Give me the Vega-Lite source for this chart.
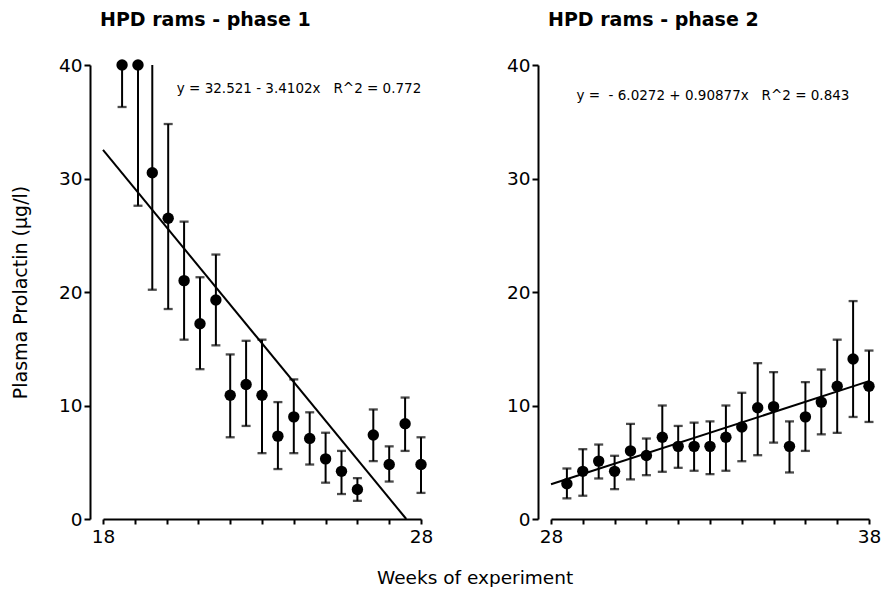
{
  "$schema": "https://vega.github.io/schema/vega-lite/v6.json",
  "padding": {"left": 11, "top": 11, "right": 0, "bottom": 0},
  "config": {
    "view": {"stroke": null},
    "font": "DejaVu Sans",
    "axis": {
      "grid": false,
      "domainColor": "black",
      "domainWidth": 2,
      "tickColor": "black",
      "tickWidth": 2,
      "labelColor": "black",
      "labelFont": "DejaVu Sans",
      "labelFontSize": 18.5,
      "titleColor": "black",
      "titleFont": "DejaVu Sans",
      "titleFontSize": 19,
      "titleFontWeight": "normal"
    },
    "title": {"color": "black", "font": "DejaVu Sans"}
  },
  "title": {
    "text": "Weeks of experiment",
    "orient": "bottom",
    "anchor": "middle",
    "fontSize": 18.5,
    "fontWeight": "normal",
    "offset": 23,
    "dx": 29
  },
  "datasets": {
    "p1": [
      {"week": 18.6, "prl": 40.0, "lo": 36.3, "hi": 40},
      {"week": 19.1, "prl": 40.0, "lo": 27.6, "hi": 40},
      {"week": 19.55, "prl": 30.5, "lo": 20.2, "hi": 40},
      {"week": 20.05, "prl": 26.5, "lo": 18.5, "hi": 34.8},
      {"week": 20.55, "prl": 21.0, "lo": 15.8, "hi": 26.2},
      {"week": 21.05, "prl": 17.2, "lo": 13.2, "hi": 21.3},
      {"week": 21.55, "prl": 19.3, "lo": 15.3, "hi": 23.3},
      {"week": 22.0, "prl": 10.9, "lo": 7.2, "hi": 14.5},
      {"week": 22.5, "prl": 11.85, "lo": 8.2, "hi": 15.7},
      {"week": 23.0, "prl": 10.9, "lo": 5.8, "hi": 15.8},
      {"week": 23.5, "prl": 7.3, "lo": 4.4, "hi": 10.3},
      {"week": 24.0, "prl": 9.0, "lo": 5.8, "hi": 12.3},
      {"week": 24.5, "prl": 7.1, "lo": 4.8, "hi": 9.4},
      {"week": 25.0, "prl": 5.3, "lo": 3.2, "hi": 7.6},
      {"week": 25.5, "prl": 4.2, "lo": 2.2, "hi": 6.0},
      {"week": 26.0, "prl": 2.6, "lo": 1.6, "hi": 3.6},
      {"week": 26.5, "prl": 7.4, "lo": 5.1, "hi": 9.65},
      {"week": 27.0, "prl": 4.8, "lo": 3.3, "hi": 6.4},
      {"week": 27.5, "prl": 8.4, "lo": 6.0, "hi": 10.7},
      {"week": 28.0, "prl": 4.8, "lo": 2.3, "hi": 7.2}
    ],
    "p2": [
      {"week": 28.5, "prl": 3.1, "lo": 1.82, "hi": 4.45},
      {"week": 29.0, "prl": 4.2, "lo": 2.05, "hi": 6.15},
      {"week": 29.5, "prl": 5.1, "lo": 3.57, "hi": 6.56},
      {"week": 30.0, "prl": 4.2, "lo": 2.63, "hi": 5.57},
      {"week": 30.5, "prl": 6.0, "lo": 3.49, "hi": 8.38},
      {"week": 31.0, "prl": 5.6, "lo": 3.86, "hi": 7.09},
      {"week": 31.5, "prl": 7.2, "lo": 4.16, "hi": 10.0},
      {"week": 32.0, "prl": 6.4, "lo": 4.51, "hi": 8.2},
      {"week": 32.5, "prl": 6.4, "lo": 4.25, "hi": 8.49},
      {"week": 33.0, "prl": 6.4, "lo": 3.95, "hi": 8.6},
      {"week": 33.5, "prl": 7.2, "lo": 4.25, "hi": 10.0},
      {"week": 34.0, "prl": 8.1, "lo": 5.09, "hi": 11.12},
      {"week": 34.5, "prl": 9.8, "lo": 5.62, "hi": 13.73},
      {"week": 35.0, "prl": 9.9, "lo": 6.73, "hi": 12.94},
      {"week": 35.5, "prl": 6.4, "lo": 4.1, "hi": 8.6},
      {"week": 36.0, "prl": 9.0, "lo": 6.0, "hi": 12.06},
      {"week": 36.5, "prl": 10.3, "lo": 7.46, "hi": 13.17},
      {"week": 37.0, "prl": 11.7, "lo": 7.59, "hi": 15.8},
      {"week": 37.5, "prl": 14.1, "lo": 8.99, "hi": 19.2},
      {"week": 38.0, "prl": 11.7, "lo": 8.55, "hi": 14.84}
    ],
    "fit1": [
      {"week": 18, "prl": 32.521},
      {"week": 27.537, "prl": 0}
    ],
    "fit2": [
      {"week": 28, "prl": 3.0605},
      {"week": 38, "prl": 12.148}
    ],
    "eq1": [
      {"week": 20.32, "prl": 37.9, "label": "y = 32.521 - 3.4102x\u00a0\u00a0\u00a0R^2 = 0.772"}
    ],
    "eq2": [
      {"week": 28.8, "prl": 37.3, "label": "y =\u00a0\u00a0- 6.0272 + 0.90877x\u00a0\u00a0\u00a0R^2 = 0.843"}
    ]
  },
  "spacing": 130,
  "bounds": "flush",
  "hconcat": [
    {
      "width": 318,
      "height": 454,
      "title": {"text": "HPD rams - phase 1", "anchor": "start", "frame": "group", "fontSize": 19, "fontWeight": "bold", "offset": 26, "dx": -3},
      "encoding": {
        "x": {
          "field": "week", "type": "quantitative",
          "scale": {"domain": [18, 28], "nice": false, "zero": false},
          "axis": {"values": [18, 19, 20, 21, 22, 23, 24, 25, 26, 27, 28], "labelExpr": "datum.value == 18 || datum.value == 28 ? datum.label : ''", "title": null, "tickSize": 5, "labelPadding": 3, "labelOverlap": false, "labelFlush": false}
        }
      },
      "layer": [
        {
          "data": {"name": "p1"},
          "mark": {"type": "rule", "strokeWidth": 2, "color": "black"},
          "encoding": {
            "y": {"field": "lo", "type": "quantitative", "scale": {"domain": [0, 40], "nice": false},
              "axis": {"values": [0, 10, 20, 30, 40], "offset": 13, "title": "Plasma Prolactin (µg/l)", "titlePadding": 28, "tickSize": 6, "labelPadding": 2}},
            "y2": {"field": "hi"}
          }
        },
        {
          "data": {"name": "p1"},
          "mark": {"type": "tick", "orient": "horizontal", "size": 9, "thickness": 2.3, "color": "black"},
          "encoding": {"y": {"field": "lo", "type": "quantitative"}}
        },
        {
          "data": {"name": "p1"},
          "transform": [{"filter": "datum.hi < 40"}],
          "mark": {"type": "tick", "orient": "horizontal", "size": 9, "thickness": 2.3, "color": "black"},
          "encoding": {"y": {"field": "hi", "type": "quantitative"}}
        },
        {
          "data": {"name": "fit1"},
          "mark": {"type": "line", "strokeWidth": 2, "color": "black"},
          "encoding": {"y": {"field": "prl", "type": "quantitative"}}
        },
        {
          "data": {"name": "p1"},
          "mark": {"type": "circle", "size": 130, "color": "black", "opacity": 1},
          "encoding": {"y": {"field": "prl", "type": "quantitative"}}
        },
        {
          "data": {"name": "eq1"},
          "mark": {"type": "text", "align": "left", "baseline": "middle", "fontSize": 13.5, "color": "black"},
          "encoding": {"y": {"field": "prl", "type": "quantitative"}, "text": {"field": "label"}}
        }
      ]
    },
    {
      "width": 318,
      "height": 454,
      "title": {"text": "HPD rams - phase 2", "anchor": "start", "frame": "group", "fontSize": 19, "fontWeight": "bold", "offset": 26, "dx": -3},
      "encoding": {
        "x": {
          "field": "week", "type": "quantitative",
          "scale": {"domain": [28, 38], "nice": false, "zero": false},
          "axis": {"values": [28, 29, 30, 31, 32, 33, 34, 35, 36, 37, 38], "labelExpr": "datum.value == 28 || datum.value == 38 ? datum.label : ''", "title": null, "tickSize": 5, "labelPadding": 3, "labelOverlap": false, "labelFlush": false}
        }
      },
      "layer": [
        {
          "data": {"name": "p2"},
          "mark": {"type": "rule", "strokeWidth": 2, "color": "black"},
          "encoding": {
            "y": {"field": "lo", "type": "quantitative", "scale": {"domain": [0, 40], "nice": false},
              "axis": {"values": [0, 10, 20, 30, 40], "offset": 13, "title": null, "tickSize": 6, "labelPadding": 2}},
            "y2": {"field": "hi"}
          }
        },
        {
          "data": {"name": "p2"},
          "mark": {"type": "tick", "orient": "horizontal", "size": 9, "thickness": 2.3, "color": "black"},
          "encoding": {"y": {"field": "lo", "type": "quantitative"}}
        },
        {
          "data": {"name": "p2"},
          "mark": {"type": "tick", "orient": "horizontal", "size": 9, "thickness": 2.3, "color": "black"},
          "encoding": {"y": {"field": "hi", "type": "quantitative"}}
        },
        {
          "data": {"name": "fit2"},
          "mark": {"type": "line", "strokeWidth": 2, "color": "black"},
          "encoding": {"y": {"field": "prl", "type": "quantitative"}}
        },
        {
          "data": {"name": "p2"},
          "mark": {"type": "circle", "size": 130, "color": "black", "opacity": 1},
          "encoding": {"y": {"field": "prl", "type": "quantitative"}}
        },
        {
          "data": {"name": "eq2"},
          "mark": {"type": "text", "align": "left", "baseline": "middle", "fontSize": 13.5, "color": "black"},
          "encoding": {"y": {"field": "prl", "type": "quantitative"}, "text": {"field": "label"}}
        }
      ]
    }
  ]
}
